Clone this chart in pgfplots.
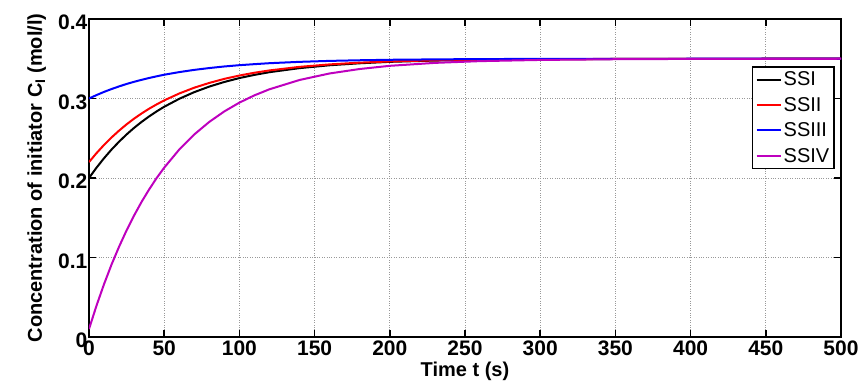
\documentclass[border=0pt]{standalone}
\usepackage{pgfplots}
\pgfplotsset{compat=1.18}
\usepackage{fontspec}
\setmainfont{Liberation Sans}
\definecolor{mmag}{RGB}{190,0,190}
\pgfplotsset{legend image code/.code={\draw[#1] (0pt,0pt) -- (24pt,0pt);}}
\begin{document}
\begin{tikzpicture}
\begin{axis}[
  scale only axis, width=752pt, height=318pt,
  xmin=0, xmax=500, ymin=0, ymax=0.4,
  xtick={0,50,100,150,200,250,300,350,400,450,500},
  ytick={0,0.1,0.2,0.3,0.4},
  yticklabels={0,0.1,0.2,0.3,0.4},
  /pgf/number format/assume math mode=true,
  grid=major,
  major grid style={dotted, gray!80, line width=0.7pt},
  tick align=inside, major tick length=7pt,
  axis line style={line width=2.2pt},
  every tick/.style={line width=1.6pt, black},
  ticklabel style={font=\fontsize{21}{25}\selectfont\bfseries},
  yticklabel style={inner xsep=1.5pt, yshift=-3.5pt},
  label style={font=\fontsize{20}{24}\selectfont\bfseries},
  xlabel={Time t (s)},
  ylabel={Concentration of initiator C\textsubscript{I} (mol/l)},
  xlabel style={at={(axis description cs:0.5,-0.125)}, anchor=base},
  ylabel style={at={(axis description cs:-0.0625,0.5)}, anchor=base},
  legend style={at={(0.992,0.852)}, anchor=north east, draw=black, line width=1.5pt,
    font=\fontsize{20}{24}\selectfont, row sep=6pt, inner xsep=3pt, inner ysep=3pt},
  legend cell align=left,
]
\addplot[color=black, line width=2pt] coordinates {
(0,0.2000)(5,0.2130)(10,0.2249)(15,0.2358)(20,0.2457)(25,0.2548)(30,0.2631)(35,0.2706)(40,0.2775)(45,0.2838)(50,0.2896)(60,0.2996)(70,0.3080)(80,0.3150)(90,0.3208)(100,0.3257)(110,0.3297)(120,0.3331)(140,0.3382)(160,0.3418)(180,0.3443)(200,0.3461)(230,0.3477)(260,0.3487)(300,0.3494)(350,0.3497)(400,0.3499)(450,0.3500)(500,0.3500)};
\addlegendentry{SSI}
\addplot[color=red, line width=2pt] coordinates {
(0,0.2200)(5,0.2313)(10,0.2416)(15,0.2510)(20,0.2596)(25,0.2675)(30,0.2747)(35,0.2812)(40,0.2872)(45,0.2926)(50,0.2976)(60,0.3063)(70,0.3136)(80,0.3196)(90,0.3247)(100,0.3289)(110,0.3324)(120,0.3353)(140,0.3398)(160,0.3429)(180,0.3451)(200,0.3466)(230,0.3480)(260,0.3488)(300,0.3494)(350,0.3498)(400,0.3499)(450,0.3500)(500,0.3500)};
\addlegendentry{SSII}
\addplot[color=blue, line width=2pt] coordinates {
(0,0.3000)(5,0.3043)(10,0.3083)(15,0.3119)(20,0.3152)(25,0.3183)(30,0.3210)(35,0.3235)(40,0.3258)(45,0.3279)(50,0.3299)(60,0.3332)(70,0.3360)(80,0.3383)(90,0.3403)(100,0.3419)(110,0.3432)(120,0.3444)(140,0.3461)(160,0.3473)(180,0.3481)(200,0.3487)(230,0.3492)(260,0.3496)(300,0.3498)(350,0.3499)(400,0.3500)(450,0.3500)(500,0.3500)};
\addlegendentry{SSIII}
\addplot[color=mmag, line width=2pt] coordinates {
(0,0.0100)(5,0.0395)(10,0.0665)(15,0.0912)(20,0.1136)(25,0.1342)(30,0.1529)(35,0.1701)(40,0.1857)(45,0.2000)(50,0.2130)(60,0.2358)(70,0.2548)(80,0.2706)(90,0.2838)(100,0.2948)(110,0.3040)(120,0.3116)(140,0.3233)(160,0.3315)(180,0.3371)(200,0.3411)(230,0.3448)(260,0.3470)(300,0.3485)(350,0.3494)(400,0.3498)(450,0.3499)(500,0.3500)};
\addlegendentry{SSIV}
\end{axis}
\pgfresetboundingbox
\path[use as bounding box] ([shift={(-89pt,-48pt)}]current axis.south west) rectangle ([shift={(22pt,19pt)}]current axis.north east);
\end{tikzpicture}
\end{document}
